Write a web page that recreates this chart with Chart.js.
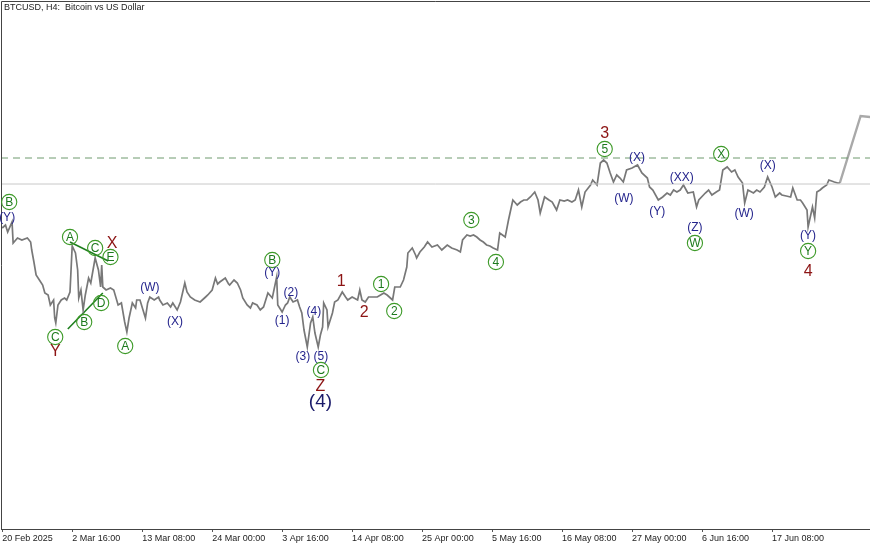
<!DOCTYPE html>
<html>
<head>
<meta charset="utf-8">
<script src="https://cdn.jsdelivr.net/npm/chart.js@4.4.1/dist/chart.umd.min.js"></script>
<style>
  html, body { margin: 0; padding: 0; background: #fff; overflow: hidden; }
</style>
</head>
<body>
<canvas id="chart" width="870" height="545"></canvas>
<script>
// bar index (H4 bars since 20 Feb 2025 00:00) and price
const barIdx = [
  0, 3, 5, 9, 10, 14, 18, 23, 26, 27,
  29, 31, 34, 37, 39, 42, 44, 47, 48, 49,
  51, 54, 57, 59, 62, 64, 67, 69, 70, 72,
  74, 76, 79, 81, 85, 88, 90, 91, 92, 95,
  99, 102, 106, 109, 112, 114, 116, 119, 122, 123,
  126, 131, 133, 135, 139, 143, 144, 147, 151, 154,
  156, 160, 163, 167, 169, 172, 176, 181, 186, 188,
  192, 195, 197, 199, 204, 207, 208, 212, 215, 218,
  220, 224, 227, 229, 233, 236, 239, 243, 247, 251,
  252, 256, 259, 261, 263, 266, 270, 272, 274, 276,
  279, 282, 284, 286, 289, 291, 293, 294, 297, 298,
  302, 304, 307, 311, 314, 316, 320, 325, 327, 329,
  332, 335, 339, 343, 346, 349, 352, 357, 359, 364,
  367, 370, 371, 375, 378, 379, 382, 386, 389, 393,
  398, 402, 407, 411, 416, 419, 421, 425, 428, 431,
  434, 437, 440, 443, 446, 449, 453, 455, 460, 463,
  466, 467, 471, 474, 477, 480, 483, 487, 490, 492,
  494, 496, 500, 503, 507, 510, 514, 517, 521, 524,
  527, 530, 533, 538, 540, 544, 547, 550, 553, 556,
  559, 562, 565, 568, 571, 576, 581, 585, 590, 592,
  595, 600, 604, 608, 611, 614, 617, 620, 623, 627,
  632, 635, 637, 643, 646, 649, 653, 656, 659, 663,
  667, 670, 673, 677, 679, 682, 687, 690, 693, 697,
  700, 704, 707, 711, 713, 717, 721, 723, 727, 730,
  732, 736, 737, 741, 743, 745, 748, 750, 754, 756,
  761, 764, 766
];
const closePrice = [
  98400, 99000, 97600, 99600, 95400, 96400, 96000, 96400, 95600, 94000,
  91600, 89000, 88000, 87000, 85400, 85000, 83000, 84000, 80400, 79400,
  83000, 84000, 84400, 84000, 85600, 94800, 93400, 90000, 84400, 86000,
  82000, 85000, 88400, 87400, 92400, 90000, 86600, 91000, 86600, 86000,
  86400, 86000, 83000, 83400, 79600, 77600, 80400, 83400, 82400, 84000,
  84000, 80400, 83400, 84600, 84000, 84600, 84000, 83000, 83400, 82600,
  83400, 82000, 83600, 87400, 85600, 84600, 84000, 83600, 84600, 85000,
  86000, 88400, 87200, 87600, 88400, 87200, 87000, 88000, 87400, 86000,
  84400, 83000, 82400, 83400, 83000, 82000, 82600, 85400, 84400, 88600,
  83000, 81600, 83000, 83400, 84600, 83600, 84000, 82600, 81400, 78000,
  74600, 79400, 80600, 77400, 74600, 77000, 78600, 83400, 82000, 78600,
  81400, 83600, 84000, 85600, 84600, 84000, 84600, 84000, 86000, 84000,
  83600, 84600, 84600, 84600, 85000, 85400, 85000, 84000, 86600, 86600,
  88000, 90600, 93400, 94400, 93000, 92400, 93600, 94600, 95600, 94600,
  95000, 94000, 95000, 94400, 94000, 93600, 96000, 97000, 96800, 97000,
  96600, 96000, 95600, 95000, 94800, 94400, 94000, 97400, 96600, 100000,
  103000, 104000, 103000, 103600, 104000, 104000, 104600, 105600, 104000, 101400,
  103000, 104600, 104000, 103600, 102000, 104000, 103800, 104000, 103600, 104000,
  106000, 102600, 105600, 107000, 108000, 107000, 111400, 112000, 111400, 109400,
  107600, 109000, 108400, 107600, 110000, 110400, 111000, 109400, 108400, 106600,
  106000, 104000, 104600, 105400, 105000, 106000, 105600, 106000, 107000, 105400,
  105600, 102600, 104000, 105400, 106000, 105000, 105600, 106000, 110000, 110600,
  109600, 110000, 108600, 107400, 103400, 106000, 105400, 106000, 105600, 106600,
  108600, 106600, 104600, 105400, 105000, 104800, 104600, 106400, 104000, 104000,
  103400, 102000, 98600, 102600, 100400, 105600, 106000, 106400, 107000, 108000,
  107600, 107400, 107400
];

// projected path after the last bar
const projBars = [766, 785, 794];
const projPrice = [107400, 120800, 120600];

// horizontal levels: dashed resistance, solid current price
const dashLevel = 112400;
const solidLevel = 107200;

// green triangle trendlines
const trendUpperBars = [62, 97];
const trendUpperPrice = [95600, 91800];
const trendLowerBars = [60, 92];
const trendLowerPrice = [78200, 85400];

const tickBars = [0, 64, 128, 192, 256, 320, 384, 448, 512, 576, 640, 704];
const tickLabels = ['20 Feb 2025', '2 Mar 16:00', '13 Mar 08:00', '24 Mar 00:00', '3 Apr 16:00',
  '14 Apr 08:00', '25 Apr 00:00', '5 May 16:00', '16 May 08:00', '27 May 00:00',
  '6 Jun 16:00', '17 Jun 08:00'];

// wave labels: c = circled green, p = parenthesised blue, r = red, n = big navy
const waveText = ['B', 'A', 'C', 'E', 'D', 'B', 'C', 'A', 'B', 'C', '1', '2', '3', '4', '5', 'W', 'X', 'Y',
  '(Y)', '(W)', '(X)', '(Y)', '(1)', '(2)', '(4)', '(3)', '(5)', '(X)', '(W)', '(Y)', '(XX)', '(Z)', '(X)', '(W)', '(Y)',
  'X', 'Y', 'Z', '1', '2', '3', '4', '(4)'];
const waveBar = [6.4, 62, 85, 99, 90.5, 75, 48.5, 112.5, 247, 291.5, 346.5, 358.5, 429, 451.5, 551, 633.5, 657.5, 737,
  4.5, 135, 158, 247, 256, 264, 285, 275, 291.5, 580.5, 568.5, 599, 621.5, 633.5, 700, 678.5, 737,
  100.5, 48.5, 291, 310, 331, 551, 737, 291];
const wavePrice = [103600, 96600, 94400, 92600, 83400, 79600, 76600, 74800, 92000, 70000, 87200, 81800, 100000, 91600, 114200, 95400, 113200, 93800,
  100600, 86600, 79800, 89600, 80000, 85600, 81800, 72800, 72800, 112600, 104400, 101800, 108600, 98600, 111000, 101400, 97000,
  95400, 73800, 66800, 87800, 81600, 117400, 89800, 63800];
const waveKind = ['c', 'c', 'c', 'c', 'c', 'c', 'c', 'c', 'c', 'c', 'c', 'c', 'c', 'c', 'c', 'c', 'c', 'c',
  'p', 'p', 'p', 'p', 'p', 'p', 'p', 'p', 'p', 'p', 'p', 'p', 'p', 'p', 'p', 'p', 'p',
  'r', 'r', 'r', 'r', 'r', 'r', 'r', 'n'];

const X_MIN = -1.1, X_MAX = 793.6;
const pts = (xs, ys) => xs.map((x, i) => ({ x: x, y: ys[i] }));

const framePlugin = {
  id: 'frame',
  afterDatasetsDraw(chart) {
    const { ctx, chartArea: a, scales } = chart;
    ctx.save();
    // left and top border
    ctx.strokeStyle = '#444';
    ctx.lineWidth = 1;
    ctx.beginPath();
    ctx.moveTo(a.left + 0.5, a.bottom);
    ctx.lineTo(a.left + 0.5, a.top + 0.5);
    ctx.lineTo(a.right, a.top + 0.5);
    ctx.stroke();

    ctx.fillStyle = '#222';
    ctx.font = '9px "Liberation Sans Narrow", "Liberation Sans", sans-serif';
    ctx.textAlign = 'left';
    ctx.textBaseline = 'middle';
    ctx.fillText('BTCUSD, H4:  Bitcoin vs US Dollar', 4, 8);

    // wave labels
    ctx.textAlign = 'center';
    waveText.forEach((t, i) => {
      const px = scales.x.getPixelForValue(waveBar[i]);
      const py = scales.y.getPixelForValue(wavePrice[i]);
      const k = waveKind[i];
      if (k === 'c') {
        ctx.beginPath();
        ctx.arc(px, py, 7.6, 0, Math.PI * 2);
        ctx.strokeStyle = '#3d9a28';
        ctx.lineWidth = 1.1;
        ctx.stroke();
        ctx.fillStyle = '#1d7a1d';
        ctx.font = '12px "Liberation Sans", Arial, sans-serif';
        ctx.fillText(t, px, py + 0.5);
      } else if (k === 'p') {
        ctx.fillStyle = '#24248c';
        ctx.font = '12px "Liberation Sans", Arial, sans-serif';
        ctx.fillText(t, px, py + 0.5);
      } else if (k === 'r') {
        ctx.fillStyle = '#8c1414';
        ctx.font = '16px "Liberation Sans", Arial, sans-serif';
        ctx.fillText(t, px, py + 0.5);
      } else {
        ctx.fillStyle = '#1a1a6a';
        ctx.font = '19px "Liberation Sans", Arial, sans-serif';
        ctx.fillText(t, px, py + 0.5);
      }
    });
    ctx.restore();
  }
};

new Chart(document.getElementById('chart'), {
  type: 'line',
  data: {
    datasets: [
      {
        data: [{ x: X_MIN, y: dashLevel }, { x: X_MAX, y: dashLevel }],
        borderColor: '#6f9a6f', borderWidth: 1, borderDash: [7, 5]
      },
      {
        data: [{ x: X_MIN, y: solidLevel }, { x: X_MAX, y: solidLevel }],
        borderColor: '#c8c8c8', borderWidth: 1
      },
      {
        data: pts(barIdx, closePrice),
        borderColor: '#787878', borderWidth: 1.7
      },
      {
        data: pts(projBars, projPrice),
        borderColor: '#a9a9a9', borderWidth: 2.4
      },
      {
        data: pts(trendUpperBars, trendUpperPrice),
        borderColor: '#1f7f1f', borderWidth: 1.6
      },
      {
        data: pts(trendLowerBars, trendLowerPrice),
        borderColor: '#1f7f1f', borderWidth: 1.6
      }
    ]
  },
  options: {
    responsive: false,
    animation: false,
    layout: { padding: { left: 1, top: 1, right: 0, bottom: 0 } },
    elements: { point: { radius: 0 }, line: { tension: 0 } },
    plugins: { legend: { display: false }, tooltip: { enabled: false } },
    scales: {
      x: {
        type: 'linear',
        min: X_MIN,
        max: X_MAX,
        afterBuildTicks: (s) => { s.ticks = tickBars.map(v => ({ value: v })); },
        afterFit: (s) => { s.height = 16; },
        grid: { drawOnChartArea: false, drawTicks: true, tickLength: 3, tickColor: '#555' },
        border: { display: true, color: '#444', width: 1 },
        ticks: {
          autoSkip: false, maxRotation: 0, align: 'start', padding: 1,
          color: '#222',
          font: { size: 9, family: '"Liberation Sans Narrow", "Liberation Sans", sans-serif' },
          callback: (v, i) => tickLabels[i]
        }
      },
      y: {
        display: false,
        min: 38200,
        max: 143800
      }
    }
  },
  plugins: [framePlugin]
});
</script>
</body>
</html>
